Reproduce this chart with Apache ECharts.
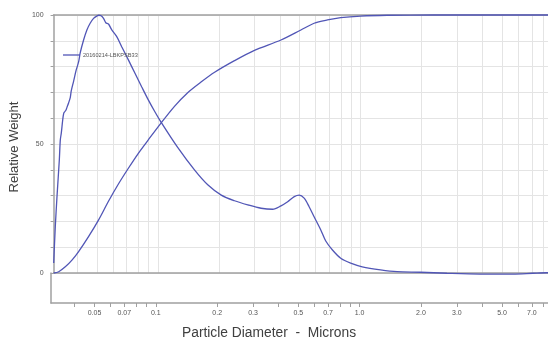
<!DOCTYPE html>
<html>
<head>
<meta charset="utf-8">
<script src="https://cdn.jsdelivr.net/npm/echarts@6/dist/echarts.min.js"></script>
<style>html,body{margin:0;padding:0;background:#fff;}#c{width:548px;height:338px;}</style>
</head>
<body>
<div id="c"></div>
<script>
// Differential curve (diameter in microns, relative weight)
const diffX = [0.03064,0.0312,0.03181,0.03266,0.03303,0.03341,0.03394,0.03433,0.03472,0.03524,0.03565,0.03632,0.03698,0.0374,0.03843,0.03957,0.04066,0.0414,0.04303,0.04467,0.04636,0.04818,0.05001,0.05114,0.0525,0.05395,0.05537,0.05708,0.05926,0.0627,0.06633,0.07156,0.07712,0.08318,0.08972,0.09668,0.1031,0.125,0.1519,0.1768,0.2055,0.2388,0.2778,0.3229,0.3685,0.4048,0.4367,0.4708,0.4979,0.5267,0.5573,0.5897,0.6362,0.6732,0.7265,0.7978,0.8932,1.019,1.254,1.514,1.97,2.665,3.882,5.639,7.069,8.25,8.4];
const diffY = [3.9,17.9,29.6,43.8,51.6,54.3,59.3,61.9,62.5,63.2,64.3,66.0,68.0,70.6,74.4,78.7,81.8,85.3,90.3,94.2,96.8,98.7,99.6,99.9,99.7,98.7,97.0,96.5,94.2,91.6,87.7,82.6,77.4,72.2,67.1,62.5,58.8,48.8,39.9,34.1,30.2,28.0,26.4,25.1,24.7,26.0,27.6,29.6,30.2,29.0,25.7,21.8,16.7,12.4,8.9,5.7,3.8,2.4,1.2,0.5,0.3,-0.1,-0.4,-0.4,-0.1,0.1,0.1];
// Cumulative curve
const cumX = [0.03064,0.03243,0.03495,0.0377,0.04066,0.04551,0.05095,0.05708,0.0639,0.07156,0.08013,0.08972,0.1034,0.1208,0.1399,0.1639,0.1905,0.2388,0.2994,0.4048,0.5076,0.5897,0.6864,0.7978,1.0,1.352,2.282,4.0,8.4];
const cumY = [0,0.5,2.4,5.0,8.3,14.1,20.5,27.8,34.5,40.6,46.4,51.6,58.0,64.6,69.8,74.1,77.8,82.3,86.3,90.3,94.2,96.8,98.1,99.0,99.6,99.9,100,100,100];
// Axis ticks and labels
const xGrid = [0.04,0.05,0.06,0.07,0.08,0.09,0.1,0.2,0.3,0.4,0.5,0.6,0.7,0.8,0.9,1,2,3,4,5,6,7,8];
const xLabelVals = [0.05,0.07,0.1,0.2,0.3,0.5,0.7,1,2,3,5,7];
const xLabelText = ['0.05','0.07','0.1','0.2','0.3','0.5','0.7','1.0','2.0','3.0','5.0','7.0'];
const yGrid = [0,10,20,30,40,50,60,70,80,90,100];
const yLabelVals = [0,50,100];
const seriesName = '20160214-LBKPSB33';

const FONT = 'Liberation Sans, Arial, sans-serif';
const LINE = '#5156b6';
const AXIS = '#a0a0a0';
const GRID = '#e4e4e4';
const XMIN = 0.0306, XMAX = 8.4;

const chart = echarts.init(document.getElementById('c'), null, {renderer: 'canvas'});
const zip = (xs, ys) => xs.map((x, i) => [x, ys[i]]);

chart.setOption({
  animation: false,
  backgroundColor: '#fff',
  title: {
    text: 'Particle Diameter  -  Microns',
    left: 182, top: 326, padding: 0,
    textStyle: {fontFamily: FONT, fontSize: 13.8, fontWeight: 'normal', color: '#404040'}
  },
  legend: {
    left: 63, top: 52, padding: 0,
    icon: 'rect', itemWidth: 17, itemHeight: 1.3, itemGap: 4,
    textStyle: {fontFamily: FONT, fontSize: 5.6, color: '#555', padding: [0, 0, 0, -2]},
    data: [seriesName]
  },
  grid: [
    {left: 51, right: 0, top: 15, height: 258},
    {left: 51, right: 0, top: 273, height: 30}
  ],
  xAxis: [
    {
      gridIndex: 0, type: 'log', logBase: 10, min: XMIN, max: XMAX, position: 'bottom',
      axisLine: {show: true, lineStyle: {color: AXIS, width: 1.5}},
      axisTick: {show: false, customValues: xGrid},
      axisLabel: {show: false},
      splitLine: {show: true, lineStyle: {color: GRID, width: 1}}
    },
    {
      gridIndex: 0, type: 'log', logBase: 10, min: XMIN, max: XMAX, position: 'top',
      axisLine: {show: true, lineStyle: {color: AXIS, width: 1.5}},
      axisTick: {show: false}, axisLabel: {show: false}, splitLine: {show: false}
    },
    {
      gridIndex: 1, type: 'log', logBase: 10, min: XMIN, max: XMAX, position: 'bottom',
      axisLine: {show: true, lineStyle: {color: AXIS, width: 1.5}},
      axisTick: {show: true, customValues: xGrid, length: 4, lineStyle: {color: AXIS}},
      axisLabel: {
        show: true, customValues: xLabelVals, margin: 7,
        fontFamily: FONT, fontSize: 7, color: '#555',
        formatter: v => { const i = xLabelVals.findIndex(t => Math.abs(t - v) < 1e-9); return i >= 0 ? xLabelText[i] : ''; }
      },
      splitLine: {show: false}
    }
  ],
  yAxis: [
    {
      gridIndex: 0, type: 'value', min: 0, max: 100,
      name: 'Relative Weight', nameLocation: 'middle', nameGap: 31,
      nameTextStyle: {fontFamily: FONT, fontSize: 13, color: '#404040', padding: [0, 6, 0, 0]},
      axisLine: {show: true, lineStyle: {color: AXIS, width: 1.5}},
      axisTick: {show: true, customValues: yGrid, length: 3, lineStyle: {color: AXIS}},
      axisLabel: {show: true, customValues: yLabelVals, margin: 10, fontFamily: FONT, fontSize: 7, color: '#555'},
      splitLine: {show: true, lineStyle: {color: GRID, width: 1}}
    },
    {
      gridIndex: 1, type: 'value', min: 0, max: 1,
      axisLine: {show: true, lineStyle: {color: AXIS, width: 1.5}},
      axisTick: {show: false}, axisLabel: {show: false}, splitLine: {show: false}
    }
  ],
  series: [
    {
      name: seriesName, type: 'line', xAxisIndex: 0, yAxisIndex: 0,
      data: zip(diffX, diffY), symbol: 'none', smooth: 0.3, clip: false,
      lineStyle: {color: LINE, width: 1.3}, itemStyle: {color: LINE}
    },
    {
      name: seriesName, type: 'line', xAxisIndex: 0, yAxisIndex: 0,
      data: zip(cumX, cumY), symbol: 'none', smooth: 0.3, clip: false,
      lineStyle: {color: LINE, width: 1.3}, itemStyle: {color: LINE}
    }
  ]
});
</script>
</body>
</html>
